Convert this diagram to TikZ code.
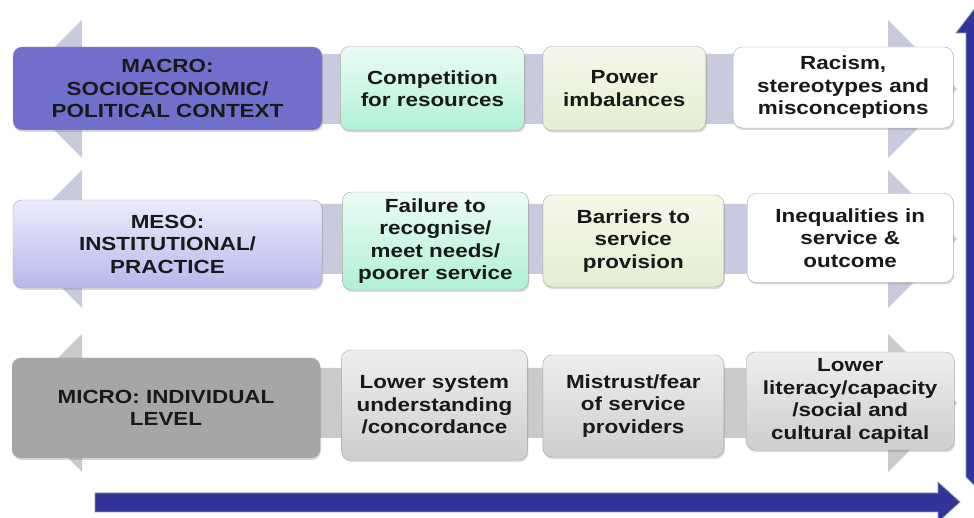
\documentclass[tikz,border=0pt]{standalone}
\usepackage{fontspec}
\setmainfont{Liberation Sans}[FakeStretch=1.18]
\usetikzlibrary{positioning, shadows}

\definecolor{macrofill}{RGB}{112,112,204}
\definecolor{mesotop}{RGB}{236,236,252}
\definecolor{mesobot}{RGB}{184,184,236}
\definecolor{microfill}{RGB}{166,166,166}
\definecolor{minttop}{RGB}{236,252,245}
\definecolor{mintbot}{RGB}{176,240,214}
\definecolor{creamtop}{RGB}{246,248,234}
\definecolor{creambot}{RGB}{228,238,210}
\definecolor{greytop}{RGB}{238,238,238}
\definecolor{greybot}{RGB}{206,206,206}
\definecolor{rowlav}{RGB}{202,202,222}
\definecolor{rowgrey}{RGB}{202,202,202}
\definecolor{deepblue}{RGB}{51,51,153}
\definecolor{blueedge}{RGB}{130,160,168}

\tikzset{
  lvlbox/.style={draw=black!35, rounded corners=9pt, align=center, inner sep=2pt,
    font=\fontsize{19}{22.5}\selectfont\bfseries, text=black!90,
    drop shadow={shadow xshift=1pt, shadow yshift=-2pt, opacity=0.3}},
  macro/.style={lvlbox, fill=macrofill},
  meso/.style={lvlbox, top color=mesotop, bottom color=mesobot},
  micro/.style={lvlbox, fill=microfill},
  mint/.style={lvlbox, top color=minttop, bottom color=mintbot},
  cream/.style={lvlbox, top color=creamtop, bottom color=creambot},
  plain/.style={lvlbox, fill=white},
  greyish/.style={lvlbox, top color=greytop, bottom color=greybot},
  bluearrow/.style={fill=deepblue, draw=blueedge, line width=0.8pt}
}

\begin{document}
\begin{tikzpicture}[x=1pt, y=1pt]
  \useasboundingbox (0,0) rectangle (974,518);
  \clip (0,0) rectangle (974,518);

  % level arrows in the back
  \foreach \yc/\col in {429/rowlav, 279/rowlav, 115/rowgrey}
    \fill[\col] (13,\yc) -- (82,\yc+69) -- (82,\yc+35) -- (888,\yc+35) -- (888,\yc+69)
      -- (957,\yc) -- (888,\yc-69) -- (888,\yc-35) -- (82,\yc-35) -- (82,\yc-69) -- cycle;

  % macro row
  \node[macro, minimum width=309pt, minimum height=83pt] (macro) at (167.5,429.5)
    {MACRO:\\SOCIOECONOMIC/\\POLITICAL CONTEXT};
  \node[mint, minimum width=184pt, minimum height=84pt, right=18pt of macro] (compete)
    {Competition\\for resources};
  \node[cream, minimum width=163pt, minimum height=84pt, right=18pt of compete] (power)
    {Power\\imbalances};
  \node[plain, minimum width=220pt, minimum height=81pt, right=27pt of power, yshift=1pt] (racism)
    {Racism,\\stereotypes and\\misconceptions};

  % meso row
  \node[meso, minimum width=309pt, minimum height=88pt] (meso) at (167.5,274)
    {MESO:\\INSTITUTIONAL/\\PRACTICE};
  \node[mint, minimum width=186pt, minimum height=98pt, right=20pt of meso, yshift=3pt] (failure)
    {Failure to\\recognise/\\meet needs/\\poorer service};
  \node[cream, minimum width=181pt, minimum height=92pt, right=14pt of failure] (barriers)
    {Barriers to\\service\\provision};
  \node[plain, minimum width=206pt, minimum height=89pt, right=23pt of barriers, yshift=3pt] (inequal)
    {Inequalities in\\service \&\\outcome};

  % micro row
  \node[micro, minimum width=308pt, minimum height=100pt] (micro) at (166,110)
    {MICRO: INDIVIDUAL\\LEVEL};
  \node[greyish, minimum width=186pt, minimum height=110pt, right=21pt of micro, yshift=3pt] (lowsys)
    {Lower system\\understanding\\/concordance};
  \node[greyish, minimum width=181pt, minimum height=102pt, right=15pt of lowsys, yshift=-1pt] (mistrust)
    {Mistrust/fear\\of service\\providers};
  \node[greyish, minimum width=208pt, minimum height=98pt, right=22pt of mistrust, yshift=5pt] (lowlit)
    {Lower\\literacy/capacity\\/social and\\cultural capital};

  % blue axes
  \draw[bluearrow] (95,6) -- (938,6) -- (938,-4) -- (960,16) -- (938,36) -- (938,25) -- (95,25) -- cycle;
  \draw[bluearrow] (966,41) -- (966,485) -- (956,485) -- (975,510) -- (994,485) -- (984,485)
    -- (984,23) -- cycle;
\end{tikzpicture}
\end{document}
